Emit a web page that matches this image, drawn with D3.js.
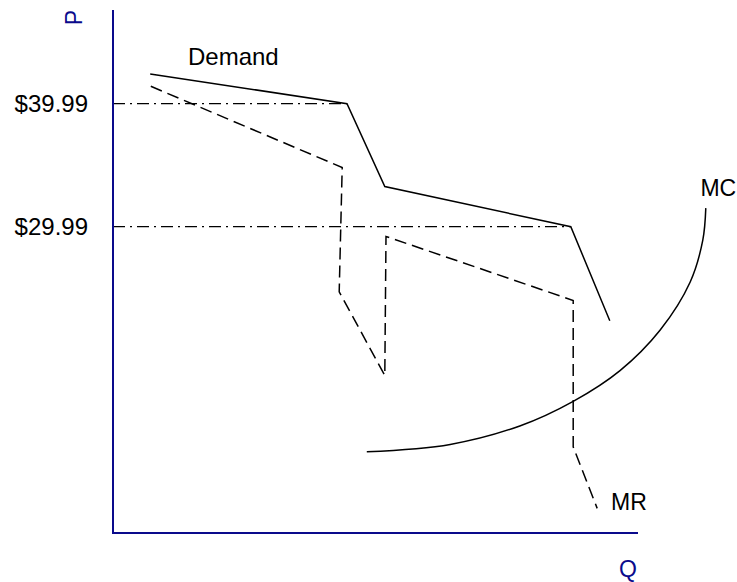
<!DOCTYPE html>
<html>
<head>
<meta charset="utf-8">
<script src="https://cdn.jsdelivr.net/npm/d3@7"></script>
<style>
  html, body { margin: 0; padding: 0; background: #fff; }
  svg { display: block; }
  text { font-family: "Liberation Sans", Arial, Helvetica, sans-serif; }
</style>
</head>
<body>
<svg id="chart" width="737" height="582"></svg>
<script>
// ---- data (Q in abstract units, P in dollars) ----
const demandQ = [6.2, 39.0, 45.3, 76.3, 82.8];
const demandP = [42.4, 39.99, 33.25, 29.99, 22.35];

const mrQ = [6.3, 38.2, 37.7, 45.3, 45.5, 76.7, 76.7, 80.7];
const mrP = [41.4, 34.8, 24.7, 17.9, 29.2, 24.0, 12.1, 7.1];

const mcQ = [42.3, 56.2, 67.8, 76.7, 84.5, 91.2, 96.2, 98.3, 98.8];
const mcP = [11.7, 12.3, 13.8, 15.8, 18.3, 21.6, 25.5, 28.9, 31.5];

const priceTicks = [39.99, 29.99];
const priceLabels = ["$39.99", "$29.99"];
const priceLineEndQ = [39.0, 76.3];

const curveLabels = ["Demand", "MC", "MR"];
const axisLabels = ["P", "Q"];

// ---- scales ----
const svg = d3.select("#chart");
const x = d3.scaleLinear().domain([0, 100]).range([113, 713]);
const y = d3.scaleLinear().domain([5.1, 47.6]).range([533, 10]);
const axisColor = "#0a0a8c";
const xAxisEnd = 87.5;

const line = d3.line().x(d => x(d[0])).y(d => y(d[1]));

// price reference lines (dash-dot)
svg.append("g").selectAll("line").data(priceTicks).join("line")
  .attr("x1", x(0)).attr("x2", (d, i) => x(priceLineEndQ[i]))
  .attr("y1", d => y(d)).attr("y2", d => y(d))
  .attr("stroke", "#000").attr("stroke-width", 1.2)
  .attr("stroke-dasharray", "12,5,2,5");

// demand
svg.append("path")
  .attr("d", line(demandQ.map((q, i) => [q, demandP[i]])))
  .attr("fill", "none").attr("stroke", "#000").attr("stroke-width", 1.5);

// MR
svg.append("path")
  .attr("d", line(mrQ.map((q, i) => [q, mrP[i]])))
  .attr("fill", "none").attr("stroke", "#000").attr("stroke-width", 1.5)
  .attr("stroke-dasharray", "12,6");

// MC
svg.append("path")
  .attr("d", line.curve(d3.curveCatmullRom)(mcQ.map((q, i) => [q, mcP[i]])))
  .attr("fill", "none").attr("stroke", "#000").attr("stroke-width", 1.5);

// axes
const yAxis = d3.axisLeft(y).tickValues(priceTicks)
  .tickFormat((d, i) => priceLabels[i]).tickSize(0).tickPadding(25);
const gy = svg.append("g").attr("transform", `translate(${x(0)},0)`).call(yAxis);
gy.select(".domain").remove();
gy.selectAll("text").attr("font-size", 24).attr("fill", "#000")
  .attr("font-family", "'Liberation Sans', Arial, sans-serif");

svg.append("line")
  .attr("x1", x(0)).attr("x2", x(0)).attr("y1", y(47.6)).attr("y2", y(5.1))
  .attr("stroke", axisColor).attr("stroke-width", 2);
svg.append("line")
  .attr("x1", x(0) - 1).attr("x2", x(xAxisEnd)).attr("y1", y(5.1)).attr("y2", y(5.1))
  .attr("stroke", axisColor).attr("stroke-width", 2);

// axis titles
svg.append("text").text(axisLabels[0])
  .attr("transform", `translate(82,17.5) rotate(-90)`)
  .attr("text-anchor", "middle").attr("font-size", 23).attr("fill", axisColor);
svg.append("text").text(axisLabels[1])
  .attr("x", 628).attr("y", 577)
  .attr("text-anchor", "middle").attr("font-size", 23).attr("fill", axisColor);

// curve labels
const labelPos = [[12.5, 43.15], [97.9, 32.5], [83.0, 7.0]];
const labelSize = [24, 23, 23];
svg.append("g").selectAll("text").data(curveLabels).join("text")
  .text(d => d)
  .attr("x", (d, i) => x(labelPos[i][0]))
  .attr("y", (d, i) => y(labelPos[i][1]))
  .attr("font-size", (d, i) => labelSize[i]).attr("fill", "#000");
</script>
</body>
</html>
